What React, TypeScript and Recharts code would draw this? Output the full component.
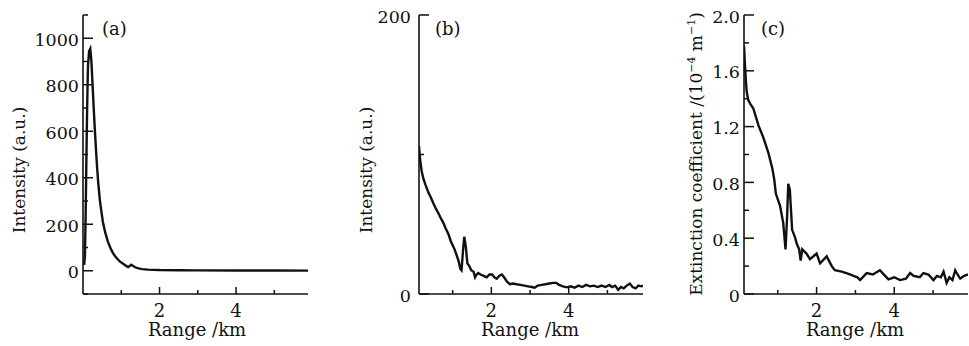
import React from "react";
import { Label, Line, LineChart, XAxis, YAxis } from "recharts";

// (a) raw lidar return
const rangeA = [
  0.03, 0.05, 0.07, 0.09, 0.11, 0.13, 0.16, 0.19, 0.22, 0.25, 0.28, 0.31, 0.34, 0.37, 0.4,
  0.44, 0.48, 0.52, 0.58, 0.65, 0.72, 0.78, 0.85, 0.96, 1.05, 1.12, 1.18, 1.22, 1.26, 1.3,
  1.36, 1.45, 1.55, 1.7, 2.0, 2.5, 3.0, 4.0, 5.0, 5.88,
];
const intensityA = [
  25, 60, 250, 500, 720, 880, 945, 955, 900, 800, 700, 605, 520, 440, 375,
  305, 255, 210, 165, 125, 97, 77, 60, 40, 30, 22, 16, 20, 26, 22,
  15, 10, 7, 5, 3, 2, 1.5, 1, 0.8, 0.5,
];

// (b) range-corrected signal
const rangeB = [
  0.13, 0.16, 0.2, 0.24, 0.3, 0.37, 0.44, 0.5, 0.57, 0.63, 0.7, 0.76, 0.82, 0.89, 0.95,
  1.0, 1.05, 1.1, 1.15, 1.2, 1.23, 1.27, 1.3, 1.34, 1.38, 1.43, 1.48, 1.54, 1.58, 1.62,
  1.66, 1.72, 1.8, 1.88, 1.95, 2.02, 2.08, 2.14, 2.2, 2.27, 2.33, 2.4, 2.48, 2.56, 2.65,
  2.75, 2.85, 2.95, 3.05, 3.12, 3.2, 3.3, 3.4, 3.5, 3.6, 3.68, 3.75, 3.85, 3.95, 4.05,
  4.15, 4.25, 4.35, 4.45, 4.55, 4.65, 4.75, 4.85, 4.95, 5.05, 5.12, 5.2, 5.28, 5.35, 5.42,
  5.5, 5.58, 5.65, 5.73, 5.8, 5.88, 5.92,
];
const intensityB = [
  106, 96, 88, 83, 78, 73, 69, 65, 61, 58, 54, 51, 47, 43, 38,
  35, 32, 28, 24, 18, 17, 32, 41, 34, 22, 20, 17, 16, 12, 14,
  15, 14, 13, 12, 14, 14, 12, 11, 13, 14, 12, 9, 7, 7.5, 7,
  6.5, 6, 5.5, 5, 4.5, 6, 6.5, 7, 7.5, 8, 8, 6.5, 5.5, 4.8, 5.5,
  4.5, 6, 5, 6.5, 5.5, 6, 5, 6, 5, 6.5, 5, 6, 3, 5, 4,
  6, 7.5, 5, 4, 6, 5.5, 6,
];

// (c) extinction coefficient, 10^-4 m^-1
const rangeC = [
  0.13, 0.155, 0.18, 0.2, 0.24, 0.3, 0.37, 0.5, 0.63, 0.76, 0.86, 0.91, 0.95, 1.06, 1.14,
  1.2, 1.24, 1.27, 1.31, 1.37, 1.44, 1.49, 1.55, 1.59, 1.63, 1.74, 1.83, 2.0, 2.09, 2.26,
  2.39, 2.47, 2.65, 2.86, 2.95, 3.05, 3.12, 3.29, 3.45, 3.63, 3.7, 3.85, 4.0, 4.15, 4.3,
  4.41, 4.5, 4.66, 4.75, 4.88, 5.01, 5.1, 5.2, 5.27, 5.35, 5.42, 5.5, 5.57, 5.63, 5.7,
  5.8, 5.91,
];
const extinctionC = [
  1.78, 1.64, 1.52, 1.45, 1.39, 1.36, 1.33, 1.21, 1.12, 1.01, 0.9, 0.82, 0.72, 0.63, 0.51,
  0.32, 0.55, 0.79, 0.75, 0.46, 0.41, 0.36, 0.32, 0.24, 0.32, 0.29, 0.25, 0.29, 0.22, 0.27,
  0.2, 0.17, 0.16, 0.14, 0.13, 0.12, 0.1, 0.15, 0.14, 0.17, 0.15, 0.105, 0.12, 0.1, 0.11,
  0.15, 0.13, 0.12, 0.15, 0.14, 0.1, 0.13, 0.12, 0.16, 0.08, 0.12, 0.1, 0.17, 0.14, 0.11,
  0.13, 0.14,
];

const xTicks = [1, 2, 3, 4, 5];
const xLabels = [2, 4];

const yTicksA = [-100, 0, 100, 200, 300, 400, 500, 600, 700, 800, 900, 1000, 1100];
const yLabelsA = [0, 200, 400, 600, 800, 1000];
const yTicksB = [0, 100, 200];
const yLabelsB = [0, 200];
const yTicksC = [0, 0.2, 0.4, 0.6, 0.8, 1.0, 1.2, 1.4, 1.6, 1.8, 2.0];
const yLabelsC = [0, 0.4, 0.8, 1.2, 1.6, 2.0];

const INK = "#111";
const FONT = "'DejaVu Serif', serif";

type PanelProps = {
  left: number;
  width: number;
  yAxisWidth: number;
  rightMargin: number;
  xs: number[];
  ys: number[];
  xDomain: [number, number];
  yDomain: [number, number];
  yTicks: number[];
  yLabels: number[];
  fmt: (v: number) => string;
  labelGap: number;
  yTitle: React.ReactNode;
  yTitleX: number;
  yTitleY: number;
  tag: string;
  tagX: number;
  rangeX: number;
};

function Panel(p: PanelProps) {
  const data = p.xs.map((x, i) => ({ range: x, value: p.ys[i] }));

  const xTick = (props: any) => {
    const { x, y, payload } = props;
    const major = xLabels.includes(payload.value);
    return (
      <g>
        <line x1={x} x2={x} y1={y} y2={y - (major ? 7 : 4)} stroke={INK} strokeWidth={1.5} />
        {major && (
          <text x={x} y={y + 23} textAnchor="middle" fontFamily={FONT} fontSize={18} fill={INK}>
            {payload.value}
          </text>
        )}
      </g>
    );
  };

  const yTick = (props: any) => {
    const { x, y, payload } = props;
    const v = Math.round(payload.value * 100) / 100;
    const major = p.yLabels.some((l) => Math.abs(l - v) < 1e-6);
    return (
      <g>
        <line x1={x} x2={x + (major ? 10 : 5)} y1={y} y2={y} stroke={INK} strokeWidth={1.5} />
        {major && (
          <text x={x - p.labelGap} y={y + 7.5} textAnchor="end" fontFamily={FONT} fontSize={17.5} fill={INK}>
            {p.fmt(v)}
          </text>
        )}
      </g>
    );
  };

  return (
    <div style={{ position: "absolute", left: p.left, top: 0 }}>
      <LineChart
        width={p.width}
        height={346}
        data={data}
        margin={{ top: 15, right: p.rightMargin, bottom: 0, left: 0 }}
      >
        <XAxis
          dataKey="range"
          type="number"
          domain={p.xDomain}
          ticks={xTicks}
          allowDataOverflow
          height={52}
          tickSize={0}
          tickMargin={0}
          tickLine={false}
          tick={xTick}
          axisLine={{ stroke: INK, strokeWidth: 1.6 }}
        >
          <Label
            content={() => (
              <g fontFamily={FONT} fill={INK}>
                <text x={p.rangeX} y={336} textAnchor="middle" fontSize={18}>
                  Range /km
                </text>
                <text x={p.tagX} y={35} fontSize={18}>
                  {p.tag}
                </text>
              </g>
            )}
          />
        </XAxis>
        <YAxis
          type="number"
          domain={p.yDomain}
          ticks={p.yTicks}
          allowDataOverflow
          width={p.yAxisWidth}
          tickSize={0}
          tickMargin={0}
          tickLine={false}
          tick={yTick}
          interval={0}
          axisLine={{ stroke: INK, strokeWidth: 1.6 }}
        >
          <Label
            content={() => (
              <text
                x={p.yTitleX}
                y={p.yTitleY}
                transform={`rotate(-90, ${p.yTitleX}, ${p.yTitleY})`}
                textAnchor="middle"
                fontFamily={FONT}
                fontSize={17}
                fill={INK}
              >
                {p.yTitle}
              </text>
            )}
          />
        </YAxis>
        <Line
          type="linear"
          dataKey="value"
          stroke={INK}
          strokeWidth={2.4}
          dot={false}
          isAnimationActive={false}
        />
      </LineChart>
    </div>
  );
}

export default function App() {
  return (
    <div style={{ position: "absolute", left: 0, top: 0, width: 969, height: 346, background: "#fff" }}>
      <Panel
        left={0}
        width={320}
        yAxisWidth={83}
        rightMargin={12}
        xs={rangeA}
        ys={intensityA}
        xDomain={[0, 5.88]}
        yDomain={[-100, 1100]}
        yTicks={yTicksA}
        yLabels={yLabelsA}
        fmt={(v) => String(v)}
        labelGap={4}
        yTitle="Intensity (a.u.)"
        yTitleX={25}
        yTitleY={170}
        tag="(a)"
        tagX={102}
        rangeX={197}
      />
      <Panel
        left={320}
        width={330}
        yAxisWidth={99}
        rightMargin={7}
        xs={rangeB}
        ys={intensityB}
        xDomain={[0.13, 5.92]}
        yDomain={[0, 200]}
        yTicks={yTicksB}
        yLabels={yLabelsB}
        fmt={(v) => String(v)}
        labelGap={8}
        yTitle="Intensity (a.u.)"
        yTitleX={52}
        yTitleY={170}
        tag="(b)"
        tagX={115}
        rangeX={210}
      />
      <Panel
        left={650}
        width={319}
        yAxisWidth={94}
        rightMargin={1}
        xs={rangeC}
        ys={extinctionC}
        xDomain={[0.13, 5.9]}
        yDomain={[0, 2]}
        yTicks={yTicksC}
        yLabels={yLabelsC}
        fmt={(v) => (v === 0 ? "0" : v.toFixed(1))}
        labelGap={4}
        yTitle={
          <>
            Extinction coefficient /(10
            <tspan dy={-7} fontSize={11}>
              −4
            </tspan>
            <tspan dy={7}> m</tspan>
            <tspan dy={-7} fontSize={11}>
              −1
            </tspan>
            <tspan dy={7}>)</tspan>
          </>
        }
        yTitleX={52}
        yTitleY={154}
        tag="(c)"
        tagX={111}
        rangeX={205}
      />
    </div>
  );
}
